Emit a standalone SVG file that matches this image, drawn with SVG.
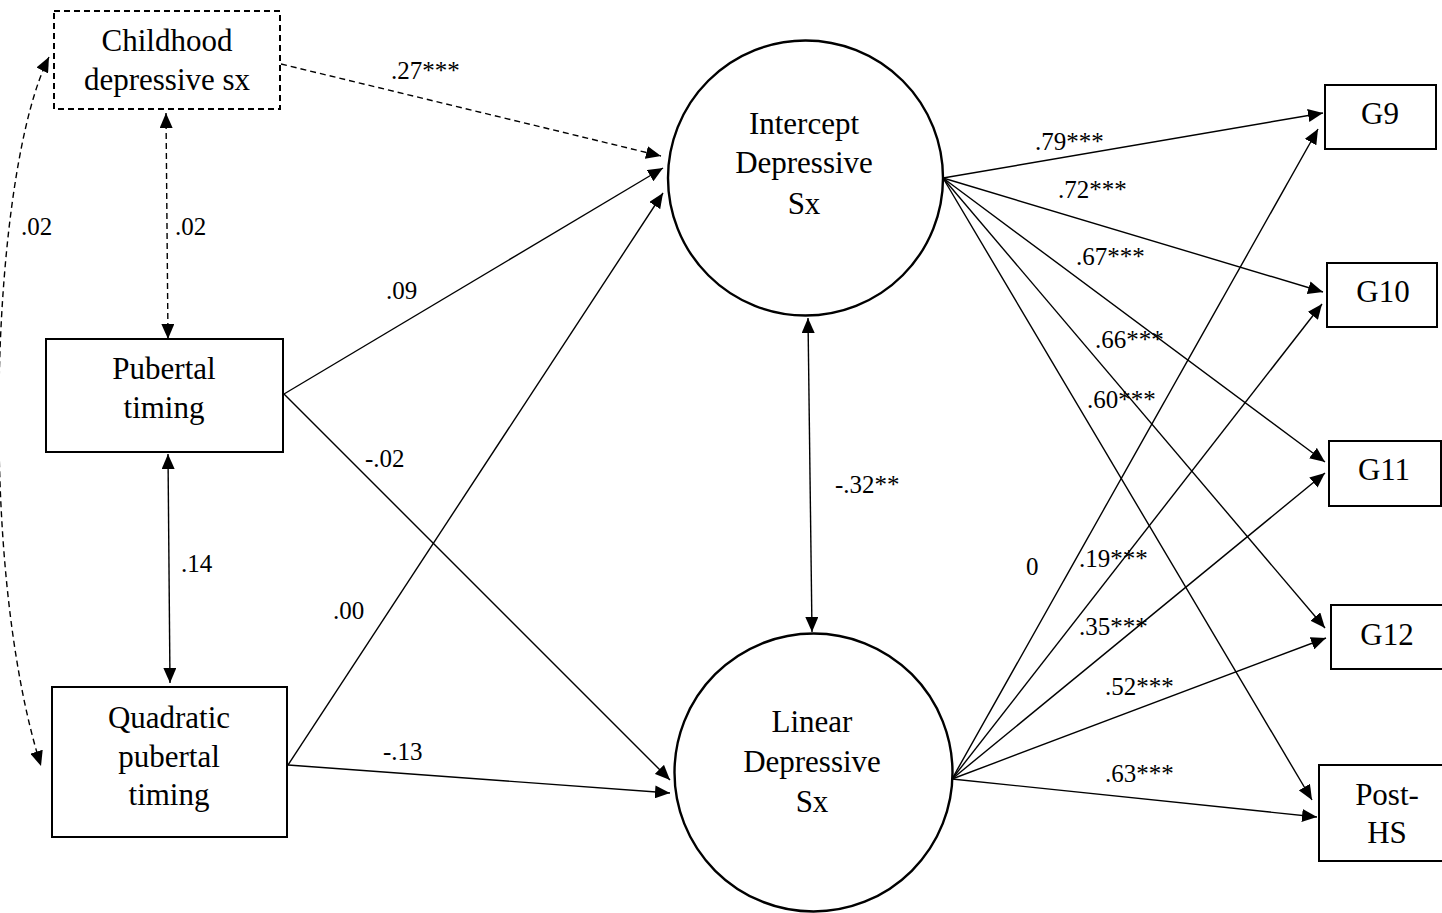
<svg xmlns="http://www.w3.org/2000/svg" width="1442" height="913" viewBox="0 0 1442 913">
<style>
.node{fill:#fff;stroke:#000;stroke-width:2}
.circ{stroke-width:2.4}
.t{font-family:"Liberation Serif","Times New Roman",serif;font-size:31px;fill:#000;text-anchor:middle}
.l{font-family:"Liberation Serif","Times New Roman",serif;font-size:25px;fill:#000}
.c{fill:none;stroke:#000;stroke-width:1.4}
.d{stroke-dasharray:6 4}
</style>
<defs>
<marker id="ah" viewBox="0 0 15 13" refX="15" refY="6.5" markerWidth="15" markerHeight="13" markerUnits="userSpaceOnUse" orient="auto-start-reverse">
<path d="M0,0 L15,6.5 L0,13 z" fill="#000"/>
</marker>
</defs>
<rect width="1442" height="913" fill="#fff"/>
<g id="connectors">
<path class="c d" d="M49,57 C-8,170 -24,560 41,766" marker-start="url(#ah)" marker-end="url(#ah)"/>
<line class="c d" x1="166" y1="113" x2="168" y2="339" marker-start="url(#ah)" marker-end="url(#ah)"/>
<line class="c" x1="168" y1="454" x2="170" y2="683" marker-start="url(#ah)" marker-end="url(#ah)"/>
<line class="c d" x1="281" y1="64" x2="661" y2="156" marker-end="url(#ah)"/>
<line class="c" x1="284" y1="394" x2="663" y2="168" marker-end="url(#ah)"/>
<line class="c" x1="284" y1="394" x2="670" y2="780" marker-end="url(#ah)"/>
<line class="c" x1="288" y1="765" x2="663" y2="193" marker-end="url(#ah)"/>
<line class="c" x1="288" y1="765" x2="670" y2="793" marker-end="url(#ah)"/>
<line class="c" x1="808" y1="318" x2="812" y2="632" marker-start="url(#ah)" marker-end="url(#ah)"/>
<line class="c" x1="943" y1="178" x2="1323" y2="113" marker-end="url(#ah)"/>
<line class="c" x1="943" y1="178" x2="1323" y2="292" marker-end="url(#ah)"/>
<line class="c" x1="943" y1="178" x2="1325" y2="462" marker-end="url(#ah)"/>
<line class="c" x1="943" y1="178" x2="1325" y2="628" marker-end="url(#ah)"/>
<line class="c" x1="943" y1="178" x2="1312" y2="800" marker-end="url(#ah)"/>
<line class="c" x1="952" y1="779" x2="1318" y2="129" marker-end="url(#ah)"/>
<line class="c" x1="952" y1="779" x2="1322" y2="304" marker-end="url(#ah)"/>
<line class="c" x1="952" y1="779" x2="1325" y2="473" marker-end="url(#ah)"/>
<line class="c" x1="952" y1="779" x2="1326" y2="638" marker-end="url(#ah)"/>
<line class="c" x1="952" y1="779" x2="1317" y2="817" marker-end="url(#ah)"/>
</g>
<g id="labels">
<text class="l" x="391" y="79">.27***</text>
<text class="l" x="21" y="235">.02</text>
<text class="l" x="175" y="235">.02</text>
<text class="l" x="386" y="299">.09</text>
<text class="l" x="365" y="467">-.02</text>
<text class="l" x="181" y="572">.14</text>
<text class="l" x="333" y="619">.00</text>
<text class="l" x="383" y="760">-.13</text>
<text class="l" x="835" y="493">-.32**</text>
<text class="l" x="1035" y="150">.79***</text>
<text class="l" x="1058" y="198">.72***</text>
<text class="l" x="1076" y="265">.67***</text>
<text class="l" x="1095" y="348">.66***</text>
<text class="l" x="1087" y="408">.60***</text>
<text class="l" x="1026" y="575">0</text>
<text class="l" x="1079" y="567">.19***</text>
<text class="l" x="1079" y="635">.35***</text>
<text class="l" x="1105" y="695">.52***</text>
<text class="l" x="1105" y="782">.63***</text>
</g>
<g id="childhood">
<rect class="node d" x="54" y="11" width="226" height="98"/>
<text class="t" x="167" y="51">Childhood</text>
<text class="t" x="167" y="90">depressive sx</text>
</g>
<g id="pubertal">
<rect class="node" x="46" y="339" width="237" height="113"/>
<text class="t" x="164" y="379">Pubertal</text>
<text class="t" x="164" y="418">timing</text>
</g>
<g id="quadratic">
<rect class="node" x="52" y="687" width="235" height="150"/>
<text class="t" x="169" y="728">Quadratic</text>
<text class="t" x="169" y="767">pubertal</text>
<text class="t" x="169" y="805">timing</text>
</g>
<g id="intercept">
<circle class="node circ" cx="805.5" cy="178" r="137.5"/>
<text class="t" x="804" y="134">Intercept</text>
<text class="t" x="804" y="173">Depressive</text>
<text class="t" x="804" y="214">Sx</text>
</g>
<g id="linear">
<circle class="node circ" cx="813.5" cy="772.5" r="139"/>
<text class="t" x="812" y="732">Linear</text>
<text class="t" x="812" y="772">Depressive</text>
<text class="t" x="812" y="812">Sx</text>
</g>
<g id="g9">
<rect class="node" x="1325" y="85" width="111" height="64"/>
<text class="t" x="1380" y="124">G9</text>
</g>
<g id="g10">
<rect class="node" x="1327" y="263" width="110" height="64"/>
<text class="t" x="1383" y="302">G10</text>
</g>
<g id="g11">
<rect class="node" x="1329" y="441" width="112" height="65"/>
<text class="t" x="1384" y="480">G11</text>
</g>
<g id="g12">
<rect class="node" x="1331" y="605" width="113" height="64"/>
<text class="t" x="1387" y="645">G12</text>
</g>
<g id="posths">
<rect class="node" x="1319" y="765" width="127" height="96"/>
<text class="t" x="1387" y="805">Post-</text>
<text class="t" x="1387" y="843">HS</text>
</g>
</svg>
